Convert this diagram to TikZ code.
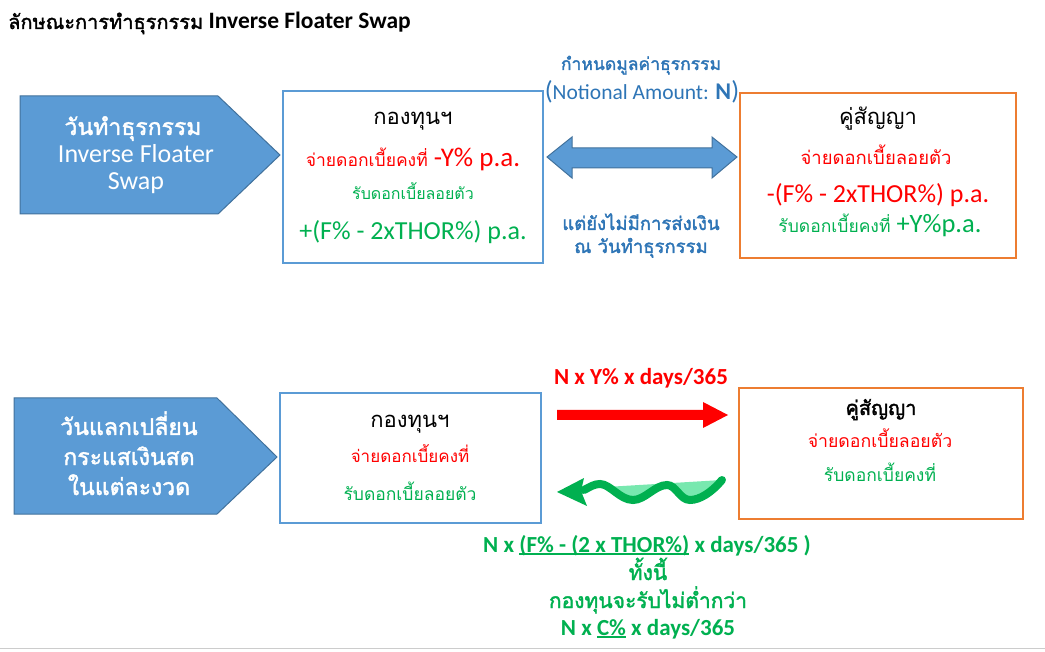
\documentclass[tikz,border=0pt]{standalone}
\usepackage{fontspec}
\setmainfont{Carlito}
\newfontfamily\thaifont[Script=Thai, AutoFakeBold=1.8]{Loma}
\usetikzlibrary{positioning}
\definecolor{boxblue}{RGB}{91,155,213}
\definecolor{edgeblue}{RGB}{65,113,156}
\definecolor{textblue}{RGB}{46,117,182}
\definecolor{boxorange}{RGB}{237,125,49}
\definecolor{paygreen}{RGB}{0,176,80}
\definecolor{payred}{RGB}{255,0,0}
\definecolor{mint}{RGB}{120,232,175}
\newcommand{\tht}[1]{{\thaifont #1}}
\newcommand{\sz}[1]{\fontsize{#1}{#1}\selectfont}
\newcommand{\undl}[1]{\setbox0\hbox{#1}\rlap{\rule[-2.5pt]{\wd0}{1.2pt}}\box0\relax}
\tikzset{fundbox/.style = {draw=boxblue, line width=2pt},
         cptybox/.style = {draw=boxorange, line width=2pt},
         daytag/.style = {fill=boxblue, draw=edgeblue, line width=1pt},
         txt/.style = {anchor=base, inner sep=0pt}}

\begin{document}
\begin{tikzpicture}[x=1pt, y=-1pt]
    \useasboundingbox (0, 0) rectangle (1045, 652);
    \draw [gray!40, line width=1pt] (0, 648) -- (1045, 648);
    \node (title) [anchor=base west, inner sep=0pt] at (8, 29)
        {\sz{23.5}\bfseries\tht{\sz{20}ลักษณะการทำธุรกรรม}\sz{23.5} Inverse Floater Swap};

    \path [daytag] (20, 96) -- (218, 96) -- (280, 155) -- (218, 214) -- (20, 214) -- cycle;
    \node (tradeday) [txt, white] at (133, 135) {\tht{\sz{23}\bfseries วันทำธุรกรรม}};
    \node (tradeswapa) [txt, white] at (136, 163) {\sz{26}Inverse Floater};
    \node (tradeswapb) [txt, white] at (136, 190) {\sz{26}Swap};

    \node (fundtop) [fundbox, minimum width=260, minimum height=172] at (413, 177) {};
    \node (fundtopname) [txt] at (413, 125) {\tht{\sz{22}กองทุนฯ}};
    \node (fundtoppay) [txt, payred] at (413, 167) {\tht{\sz{17.5}จ่ายดอกเบี้ยคงที่}\sz{27} -Y\% p.a.};
    \node (fundtoprecv) [txt, paygreen] at (413, 200) {\tht{\sz{16}รับดอกเบี้ยลอยตัว}};
    \node (fundtopfml) [txt, paygreen] at (413, 240) {\sz{26}+(F\% - 2xTHOR\%) p.a.};

    \node (cptytop) [cptybox, minimum width=276, minimum height=165] at (878, 175.5) {};
    \node (cptytopname) [txt] at (878, 125) {\tht{\sz{22}คู่สัญญา}};
    \node (cptytoppay) [txt, payred] at (876, 165) {\tht{\sz{18.5}จ่ายดอกเบี้ยลอยตัว}};
    \node (cptytopfml) [txt, payred] at (878, 203) {\sz{26}-(F\% - 2xTHOR\%) p.a.};
    \node (cptytoprecv) [txt, paygreen] at (880, 233) {\tht{\sz{17.5}รับดอกเบี้ยคงที่}\sz{26.5} +Y\%p.a.};

    \path [daytag] (547, 157) -- (572, 137) -- (572, 148) -- (712, 148) -- (712, 137)
        -- (737, 157) -- (712, 178) -- (712, 168) -- (572, 168) -- (572, 178) -- cycle;
    \node (notional) [txt, textblue] at (641, 70) {\tht{\sz{17.5}\bfseries กำหนดมูลค่าธุรกรรม}};
    \node (notionalen) [txt, textblue] at (642, 100)
        {\sz{26}(\sz{21.5}Notional Amount: \sz{24}\bfseries N\mdseries\sz{26})};
    \node (nocash) [txt, textblue] at (641, 230) {\tht{\sz{18.5}\bfseries แต่ยังไม่มีการส่งเงิน}};
    \node (nocashday) [txt, textblue] at (641, 253) {\tht{\sz{18.5}\bfseries ณ วันทำธุรกรรม}};

    \path [daytag] (14, 398) -- (217, 398) -- (277, 457) -- (217, 514) -- (14, 514) -- cycle;
    \node (swapday) [txt, white] at (129, 435) {\tht{\sz{23}\bfseries วันแลกเปลี่ยน}};
    \node (swapdayb) [txt, white] at (129, 465) {\tht{\sz{23}\bfseries กระแสเงินสด}};
    \node (swapdayc) [txt, white] at (129, 495) {\tht{\sz{23}\bfseries ในแต่ละงวด}};

    \node (fundbot) [fundbox, minimum width=261, minimum height=130] at (410.5, 458) {};
    \node (fundbotname) [txt] at (410, 428) {\tht{\sz{22}กองทุนฯ}};
    \node (fundbotpay) [txt, payred] at (410, 463) {\tht{\sz{17}จ่ายดอกเบี้ยคงที่}};
    \node (fundbotrecv) [txt, paygreen] at (410, 500) {\tht{\sz{17.5}รับดอกเบี้ยลอยตัว}};

    \node (cptybot) [cptybox, minimum width=284, minimum height=131] at (881, 453.5) {};
    \node (cptybotname) [txt] at (881, 415) {\tht{\sz{20}\bfseries คู่สัญญา}};
    \node (cptybotpay) [txt, payred] at (880, 447) {\tht{\sz{17.7}จ่ายดอกเบี้ยลอยตัว}};
    \node (cptybotrecv) [txt, paygreen] at (880, 482) {\tht{\sz{17.5}รับดอกเบี้ยคงที่}};

    \fill [payred] (557, 410) -- (703, 410) -- (703, 402) -- (728, 415) -- (703, 428)
        -- (703, 420) -- (557, 420) -- cycle;
    \node (fixedleg) [txt, payred] at (641, 385) {\sz{23}\bfseries N x Y\% x days/365};

    \fill [mint] (606, 487) -- (722, 480) .. controls (712, 492) and (700, 500) .. (690, 500)
        .. controls (680, 500) and (676, 485) .. (667, 485)
        .. controls (655, 485) and (645, 500) .. (633, 500)
        .. controls (622, 500) and (614, 490) .. (606, 487);
    \draw [paygreen, line width=8pt, line cap=round] (722, 480)
        .. controls (712, 492) and (700, 500) .. (690, 500)
        .. controls (680, 500) and (676, 485) .. (667, 485)
        .. controls (655, 485) and (645, 500) .. (633, 500)
        .. controls (620, 500) and (610, 484) .. (600, 484)
        .. controls (594, 484) and (590, 487) .. (584, 490);
    \fill [paygreen] (557, 492) -- (584, 478) -- (581, 491) -- (587, 506) -- cycle;
    \node (floatleg) [txt, paygreen] at (647, 552)
        {\sz{23}\bfseries N x \undl{(F\% - (2 x THOR\%)} x days/365 )};
    \node (floatnote) [txt, paygreen] at (648, 580) {\tht{\sz{21}\bfseries ทั้งนี้}};
    \node (floatfloor) [txt, paygreen] at (648, 608) {\tht{\sz{21}\bfseries กองทุนจะรับไม่ต่ำกว่า}};
    \node (floatmin) [txt, paygreen] at (648, 635) {\sz{23}\bfseries N x \undl{C\%} x days/365};
\end{tikzpicture}
\end{document}
